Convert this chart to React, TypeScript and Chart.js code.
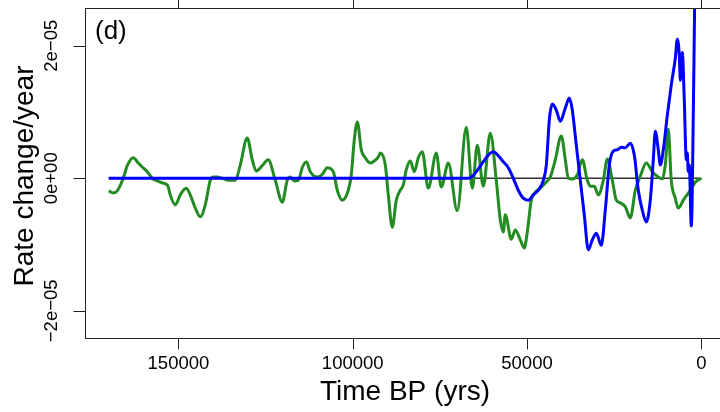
import React, { useEffect, useRef } from "react";
import { Chart, registerables } from "chart.js";

Chart.register(...registerables);

// ---------- data ----------
const greenYears = [
  170000, 168700, 167550, 165830, 164680, 162960, 161520, 160380, 158940, 157510,
  156070, 154640, 153490, 152920, 152350, 150910, 149480, 147760, 146610, 145160,
  143730, 142300, 140860, 140000, 138850, 137420, 135700, 133690, 132260, 130250,
  128820, 127670, 125950, 124230, 122220, 120210, 118780, 117920, 116770, 115610,
  114470, 113320, 112170, 110160, 108730, 107300, 105570, 104430, 102990, 101270,
  100410, 99550, 98680, 97540, 96390, 94960, 94090, 92660, 92090, 90650,
  89790, 88640, 87500, 86350, 85490, 84630, 83480, 82330, 81180, 80040,
  78320, 76020, 74590, 72580, 70000, 67420, 65690, 64260, 62540, 60530,
  58810, 57660, 56800, 56230, 54510, 53360, 51920, 50780, 49920, 48770,
  47620, 46190, 44750, 43320, 41880, 40160, 39010, 38150, 37010, 35570,
  34140, 32700, 31840, 30700, 29550, 28110, 26970, 25530, 24380, 23240,
  21800, 20370, 18930, 17500, 15780, 14060, 12620, 11190, 10330, 9470,
  8610, 7460, 6600, 5160, 3160, 1720, 0,
];
const greenRates = [
  -0.19e-5, -0.22e-5, -0.19e-5, 0, 0.19e-5, 0.31e-5, 0.23e-5, 0.17e-5, 0.1e-5, 0,
  -0.04e-5, -0.07e-5, -0.09e-5, -0.13e-5, -0.25e-5, -0.4e-5, -0.25e-5, -0.15e-5, -0.25e-5, -0.45e-5,
  -0.58e-5, -0.4e-5, -0.03e-5, 0.02e-5, 0.02e-5, 0, -0.03e-5, -0.03e-5, 0.2e-5, 0.61e-5,
  0.28e-5, 0.11e-5, 0.19e-5, 0.28e-5, -0.03e-5, -0.36e-5, -0.03e-5, 0.02e-5, -0.04e-5, -0.03e-5,
  0.16e-5, 0.25e-5, 0.1e-5, 0.02e-5, 0.06e-5, 0.16e-5, 0.1e-5, -0.18e-5, -0.33e-5, -0.18e-5,
  0.05e-5, 0.58e-5, 0.85e-5, 0.43e-5, 0.31e-5, 0.23e-5, 0.25e-5, 0.32e-5, 0.38e-5, 0.2e-5,
  -0.25e-5, -0.74e-5, -0.33e-5, -0.18e-5, -0.1e-5, 0.13e-5, 0.26e-5, 0.1e-5, 0.31e-5, 0.4e-5,
  -0.15e-5, 0.38e-5, -0.13e-5, 0.23e-5, -0.49e-5, 0.77e-5, -0.15e-5, 0.5e-5, -0.12e-5, 0.68e-5,
  -0.03e-5, -0.63e-5, -0.81e-5, -0.55e-5, -0.92e-5, -0.78e-5, -0.93e-5, -1.05e-5, -0.81e-5, -0.33e-5,
  -0.21e-5, -0.15e-5, -0.07e-5, 0.02e-5, 0.28e-5, 0.64e-5, 0.28e-5, 0, -0.01e-5, 0.05e-5,
  0.28e-5, -0.03e-5, -0.12e-5, -0.12e-5, -0.25e-5, -0.03e-5, 0.29e-5, -0.03e-5, -0.33e-5, -0.37e-5,
  -0.43e-5, -0.6e-5, -0.18e-5, 0.03e-5, 0.23e-5, 0.1e-5, 0.03e-5, -0.01e-5, 0.2e-5, 0.74e-5,
  -0.03e-5, -0.3e-5, -0.45e-5, -0.33e-5, -0.18e-5, -0.06e-5, 0,
];

const blueYears = [
  170000, 66840, 65690, 64260, 62540, 61100, 59670, 58240, 56800, 55370,
  53930, 52500, 51060, 49630, 48190, 46760, 45320, 44460, 43600, 42740,
  41600, 40450, 39010, 37870, 37010, 35860, 34710, 33570, 32420, 31270,
  30120, 28690, 27540, 26390, 25250, 24100, 22950, 21800, 20370, 19220,
  18070, 16930, 15780, 14630, 13770, 13200, 12340, 11760, 10900, 9750,
  8610, 7460, 6890, 6310, 6020, 5450, 4880, 4300, 4020, 3730,
  3440, 2870, 2580, 1860,
];
const blueRates = [
  0, 0, 0.03e-5, 0.12e-5, 0.25e-5, 0.35e-5, 0.4e-5, 0.34e-5, 0.25e-5, 0.16e-5,
  0, -0.18e-5, -0.3e-5, -0.33e-5, -0.25e-5, -0.18e-5, -0.03e-5, 0.2e-5, 0.88e-5, 1.12e-5,
  1.03e-5, 0.86e-5, 1.06e-5, 1.21e-5, 1.03e-5, 0.5e-5, -0.03e-5, -0.55e-5, -1.08e-5, -0.93e-5,
  -0.83e-5, -1.01e-5, -0.48e-5, 0.2e-5, 0.41e-5, 0.43e-5, 0.47e-5, 0.46e-5, 0.53e-5, 0.35e-5,
  -0.18e-5, -0.48e-5, -0.66e-5, -0.33e-5, 0.28e-5, 0.71e-5, 0.43e-5, 0.2e-5, 0.43e-5, 0.95e-5,
  1.41e-5, 1.81e-5, 2.1e-5, 1.86e-5, 1.48e-5, 1.9e-5, 1.18e-5, 0.28e-5, 0.38e-5, 0.1e-5,
  0.2e-5, -0.72e-5, -0.18e-5, 2.85e-5,
];

const zeroYears = [170000, 0];
const zeroRates = [0, 0];

const xTicks = [150000, 100000, 50000, 0];
const xTickLabels = ["150000", "100000", "50000", "0"];
const yTicks = [2e-5, 0, -2e-5];
const yTickLabels = ["2e\u221205", "0e+00", "\u22122e\u221205"];

const xTitle = "Time BP (yrs)";
const yTitle = "Rate change/year";
const panelLabel = "(d)";

// ---------- chart ----------
const CANVAS_W = 740;
const CANVAS_H = 412;
const FONT = "'Liberation Sans', Arial, Helvetica, sans-serif";

const toPoints = (xs: number[], ys: number[]) => xs.map((x, i) => ({ x, y: ys[i] }));

const axesPlugin = {
  id: "rAxes",
  afterDraw(chart: any) {
    const { ctx, chartArea } = chart;
    const xs = chart.scales.x;
    const ys = chart.scales.y;
    const L = Math.round(chartArea.left) + 0.5;
    const R = Math.round(chartArea.right) + 0.5;
    const T = Math.round(chartArea.top) + 0.5;
    const B = Math.round(chartArea.bottom) + 0.5;
    ctx.save();
    ctx.strokeStyle = "#222";
    ctx.lineWidth = 1;
    ctx.strokeRect(L, T, R - L, B - T);

    // x ticks (bottom + top)
    ctx.beginPath();
    xTicks.forEach((v) => {
      const px = Math.round(xs.getPixelForValue(v)) + 0.5;
      ctx.moveTo(px, B);
      ctx.lineTo(px, B + 11);
      ctx.moveTo(px, T);
      ctx.lineTo(px, T - 11);
    });
    // y ticks
    yTicks.forEach((v) => {
      const py = Math.round(ys.getPixelForValue(v)) + 0.5;
      ctx.moveTo(L, py);
      ctx.lineTo(L - 12, py);
    });
    ctx.stroke();

    ctx.fillStyle = "#000";
    ctx.font = `18.5px ${FONT}`;
    ctx.textAlign = "center";
    ctx.textBaseline = "middle";
    xTicks.forEach((v, i) => {
      const px = xs.getPixelForValue(v);
      ctx.fillText(xTickLabels[i], px, B + 25.5);
    });
    yTicks.forEach((v, i) => {
      let py = ys.getPixelForValue(v);
      const hw = ctx.measureText(yTickLabels[i]).width / 2;
      py = Math.max(py, 3 + hw);
      ctx.save();
      ctx.translate(51.5, py);
      ctx.rotate(-Math.PI / 2);
      ctx.fillText(yTickLabels[i], 0, 0);
      ctx.restore();
    });

    // titles
    ctx.font = `28px ${FONT}`;
    ctx.textBaseline = "alphabetic";
    ctx.fillText(xTitle, (chartArea.left + chartArea.right) / 2, 400);
    ctx.save();
    ctx.translate(32.5, (chartArea.top + chartArea.bottom) / 2 + 3);
    ctx.rotate(-Math.PI / 2);
    ctx.fillText(yTitle, 0, 0);
    ctx.restore();

    // panel label
    ctx.font = `26px ${FONT}`;
    ctx.textAlign = "left";
    ctx.fillText(panelLabel, 95, 39);
    ctx.restore();
  },
};

export default function App() {
  const ref = useRef<HTMLCanvasElement | null>(null);

  useEffect(() => {
    if (!ref.current) return;
    const chart = new Chart(ref.current, {
      type: "scatter",
      data: {
        datasets: [
          {
            label: "blue",
            data: toPoints(blueYears, blueRates),
            showLine: true,
            borderColor: "#0000FF",
            borderWidth: 3,
            pointRadius: 0,
            cubicInterpolationMode: "monotone",
            clip: 0,
            order: 1,
          },
          {
            label: "green",
            data: toPoints(greenYears, greenRates),
            showLine: true,
            borderColor: "#228B22",
            borderWidth: 3,
            pointRadius: 0,
            cubicInterpolationMode: "monotone",
            clip: 0,
            order: 2,
          },
          {
            label: "zero",
            data: toPoints(zeroYears, zeroRates),
            showLine: true,
            borderColor: "#333333",
            borderWidth: 1.5,
            pointRadius: 0,
            clip: 0,
            order: 3,
          },
        ],
      } as any,
      options: {
        animation: false,
        responsive: false,
        devicePixelRatio: 1,
        layout: { padding: { left: 85, top: 8, right: 15, bottom: 74 } },
        plugins: { legend: { display: false }, tooltip: { enabled: false } },
        events: [],
        scales: {
          x: { type: "linear", reverse: true, min: -6800, max: 176800, display: false },
          y: { type: "linear", min: -2.41e-5, max: 2.57e-5, display: false },
        },
      } as any,
      plugins: [axesPlugin],
    });
    return () => chart.destroy();
  }, []);

  return (
    <div
      style={{
        position: "fixed",
        left: 0,
        top: 0,
        width: 720,
        height: 412,
        overflow: "hidden",
        background: "#fff",
      }}
    >
      <canvas
        ref={ref}
        width={CANVAS_W}
        height={CANVAS_H}
        style={{ width: CANVAS_W, height: CANVAS_H, display: "block" }}
      />
    </div>
  );
}
